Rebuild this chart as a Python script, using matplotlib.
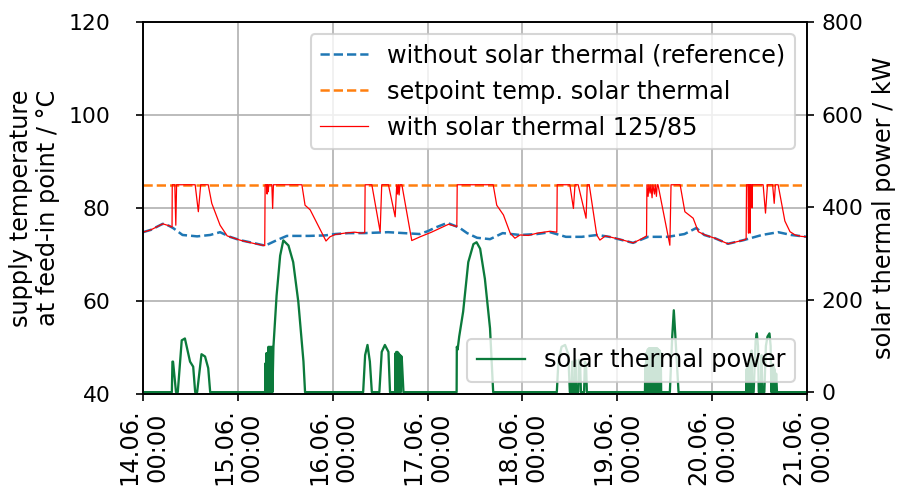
import matplotlib
matplotlib.use("Agg")
import matplotlib.pyplot as plt

# ---------------- data ----------------
tick_hours = [0, 24, 48, 72, 96, 120, 144, 168]
tick_labels = ["14.06.\n00:00", "15.06.\n00:00", "16.06.\n00:00", "17.06.\n00:00",
               "18.06.\n00:00", "19.06.\n00:00", "20.06.\n00:00", "21.06.\n00:00"]

# supply temperature without solar thermal (reference), hours / °C
ref_h = [0, 2, 5, 6.5, 7.6, 10, 13.7, 17, 19.5, 22, 24.5, 27.8, 30.9, 33.9, 36.4, 42,
         46, 48.6, 52, 56, 62, 66, 70, 72, 74, 77, 80, 82, 84.5, 87.8, 91, 95.4, 99.7,
         103, 107, 111, 115, 118, 124, 127.8, 132.8, 137, 140, 142, 144.7, 148, 152,
         156.6, 160.7, 164, 168]
ref_T = [74.8, 75.3, 76.6, 76.2, 75.7, 74.2, 73.9, 74.2, 74.8, 73.8, 73.1, 72.5, 71.9,
         73.1, 74.0, 74.0, 74.1, 74.4, 74.6, 74.6, 74.8, 74.6, 74.4, 75.0, 75.8, 76.8,
         75.8, 74.6, 73.6, 73.3, 74.6, 74.2, 74.4, 74.8, 73.8, 73.8, 74.2, 73.8, 72.5,
         73.8, 73.8, 74.4, 75.7, 74.2, 73.5, 72.3, 73.1, 74.2, 74.8, 74.2, 73.8]

setpoint_h = [0, 168]
setpoint_T = [85, 85]

# supply temperature with solar thermal 125/85, hours / °C
st_h = [0, 2, 5, 6.5, 7.35, 7.4, 8.05, 8.3, 8.5, 13.2, 14.0, 14.6, 16.5, 17.4, 19.5, 21.3,
        24.5, 27.9, 30.8, 30.9, 31.3, 31.4, 31.5, 31.7, 31.8, 32.6, 32.8, 33.0, 40.2, 41.0,
        42.3, 46.3, 47.3, 48.6, 51.1, 53.6, 55.3, 56.1, 56.2, 57.9, 60.0, 60.4, 62.1, 63.8,
        64.2, 64.4, 64.6, 64.8, 65.0, 65.5, 68.0, 70.1, 73.0, 77.3, 79.4, 79.5, 88.6, 89.5,
        91.2, 92.9, 94.1, 95.4, 97.5, 99.8, 103, 104.7, 104.8, 108.0, 108.9, 109.3, 110.1,
        112.1, 112.4, 112.9, 114.8, 115.6, 117, 118, 121, 124, 126, 127.4, 127.5, 127.8,
        128.0, 128.3, 128.5, 128.8, 129.0, 129.4, 129.6, 129.9, 130.1, 130.3, 133.3, 133.6,
        135.9, 137.1, 139.2, 140.5, 142.2, 144.7, 148, 152, 152.6, 152.7, 153.1, 153.2,
        153.3, 153.5, 153.6, 153.7, 154.0, 154.1, 154.2, 156.9, 157.5, 158.0, 159.3, 159.7,
        160.0, 160.7, 162.4, 163.7, 165, 166.5, 168]
st_T = [74.8, 75.3, 76.6, 76.2, 75.9, 85, 85, 76.3, 85, 85, 79.2, 85, 85, 81.0, 76.3, 74.0,
        73.1, 72.4, 71.9, 85, 85, 83, 85, 83.5, 85, 85, 79.9, 85, 85, 80.6,
        79.6, 72.9, 73.8, 74.3, 74.6, 74.8, 74.6, 74.7, 85, 85, 74.9, 85, 85, 78.1,
        85, 83, 85, 82.8, 85, 85, 73.0, 73.8, 74.8, 76.5, 76.0, 85, 85, 80.6,
        78.5, 74.6, 73.5, 74.2, 74.1, 74.6, 75.0, 74.8, 85, 85, 79.9, 85, 85,
        77.8, 85, 85, 74.2, 73.1, 74.0, 73.8, 73.2, 72.5, 73.3, 74.0, 85, 82.5,
        85, 83.2, 85, 82.2, 85, 83, 85, 82.5, 85, 85, 72.0, 85,
        85, 79.2, 77.8, 74.9, 74.2, 73.5, 72.3, 73.1, 73.3, 85, 85, 74.6,
        85, 85, 74.6, 85, 85, 80, 85, 85, 78.9, 85, 85, 81.0,
        85, 85, 77.2, 74.9, 74.2, 73.9, 73.8]

# solar thermal power, hours / kW
pw_h = [0, 7.3, 7.45, 7.6, 8.35, 8.8, 9.8, 10.6, 11.9, 12.7, 13.2, 13.7, 14.8, 15.7, 16.5, 17.0,
        30.9, 30.95, 31.05, 31.2, 31.3, 31.45, 31.55, 31.75, 31.85, 32.05, 32.15, 32.35,
        32.45, 32.65, 32.75, 33.0, 33.8, 34.7, 35.5, 36.8, 38.0, 39.3, 40.6, 41.0,
        55.7, 56.2, 56.8, 57.4, 57.9, 59.8, 60.4, 61.2, 62.1, 62.5, 63.8, 63.9, 64.0,
        64.1, 64.2, 64.35, 64.45, 64.6, 64.7, 64.85, 64.95, 65.1, 65.2, 65.35, 65.45, 65.9,
        79.35, 79.4, 79.6, 80.0, 81.0, 82.3, 83.6, 84.4, 85.3, 86.5, 87.8, 88.6,
        104.7, 105.1, 105.9, 106.8, 107.6, 108.0, 108.4, 108.6, 108.8, 109.2, 109.4,
        109.6, 110.1, 110.3, 110.6, 110.8, 111.6, 111.8, 112.1, 112.3,
        127.0, 127.1, 127.2, 127.4, 127.5, 127.7, 127.8, 128.0, 128.1, 128.3, 128.4,
        128.6, 128.7, 128.9, 129.0, 129.2, 129.3, 129.5, 129.6, 129.8, 129.9, 130.1,
        130.2, 130.4, 130.5, 130.7, 130.8, 131.0, 131.1, 131.3,
        133.3, 133.9, 134.3, 134.7, 135.5,
        152.6, 152.7, 152.8, 153.0, 153.1, 153.3, 153.4, 153.6, 153.7, 154.0, 154.1,
        154.5, 155.0, 155.3, 155.6, 155.8, 156.3, 156.5, 156.7, 157.2, 157.6, 158.0,
        158.5, 158.8, 159.0, 159.2, 159.3, 159.5, 159.6, 159.8, 160.0, 160.2, 160.4, 168]
pw_kW = [0, 0, 66, 66, 0, 0, 112, 116, 66, 55, 0, 0, 82, 77, 52, 0,
         0, 62, 0, 84, 0, 84, 0, 98, 0, 98, 0, 98,
         0, 98, 0, 98, 209, 295, 328, 317, 281, 195, 66, 0,
         0, 80, 102, 66, 0, 0, 87, 102, 87, 0, 0, 84, 0,
         87, 0, 87, 0, 85, 0, 82, 0, 80, 0, 77, 77, 0,
         0, 98, 92, 120, 174, 281, 320, 324, 310, 245, 138, 0,
         0, 66, 98, 102, 82, 0, 0, 66, 0, 0, 70,
         0, 0, 70, 60, 0, 0, 66, 60, 0,
         0, 60, 0, 85, 0, 92, 0, 95, 0, 95, 0,
         95, 0, 95, 0, 95, 0, 95, 0, 95, 0, 95,
         0, 92, 0, 90, 0, 85, 0, 0,
         0, 120, 177, 120, 0,
         0, 50, 0, 60, 0, 70, 0, 80, 0, 90, 0,
         0, 110, 127, 100, 0, 0, 80, 0, 0, 100, 120,
         127, 100, 0, 60, 0, 60, 0, 50, 0, 40, 0, 0]

# ---------------- figure ----------------
fig = plt.figure(figsize=(6, 494 / 150), dpi=150)
ax = fig.add_axes([143 / 900, 1 - 394 / 494, (807 - 143) / 900, (394 - 22) / 494])

ax.plot(ref_h, ref_T, "--", color="tab:blue", lw=1.2, label="without solar thermal (reference)")
ax.plot(setpoint_h, setpoint_T, "--", color="tab:orange", lw=1.2, label="setpoint temp. solar thermal")
ax.plot(st_h, st_T, "-", color="red", lw=0.6, label="with solar thermal 125/85")

ax.set_xlim(0, 168)
ax.set_ylim(40, 120)
ax.set_yticks([40, 60, 80, 100, 120])
ax.set_xticks(tick_hours)
ax.set_xticklabels(tick_labels, rotation=90, fontsize=11.5)
ax.tick_params(axis="y", labelsize=10.5, pad=12)
ax.grid(True)
ax.set_ylabel("supply temperature\nat feed-in point / °C", fontsize=11.5)
ax.legend(loc="upper right", fontsize=11.5)

ax2 = ax.twinx()
ax2.plot(pw_h, pw_kW, "-", color="#0b7a3b", lw=1.1, label="solar thermal power")
ax2.set_ylim(-4, 800)
ax2.set_yticks([0, 200, 400, 600, 800])
ax2.tick_params(axis="y", labelsize=10.5)
ax2.set_ylabel("solar thermal power / kW", fontsize=11.5)
ax2.legend(loc="lower right", fontsize=11.5)

fig.savefig("out.png", dpi=150)
